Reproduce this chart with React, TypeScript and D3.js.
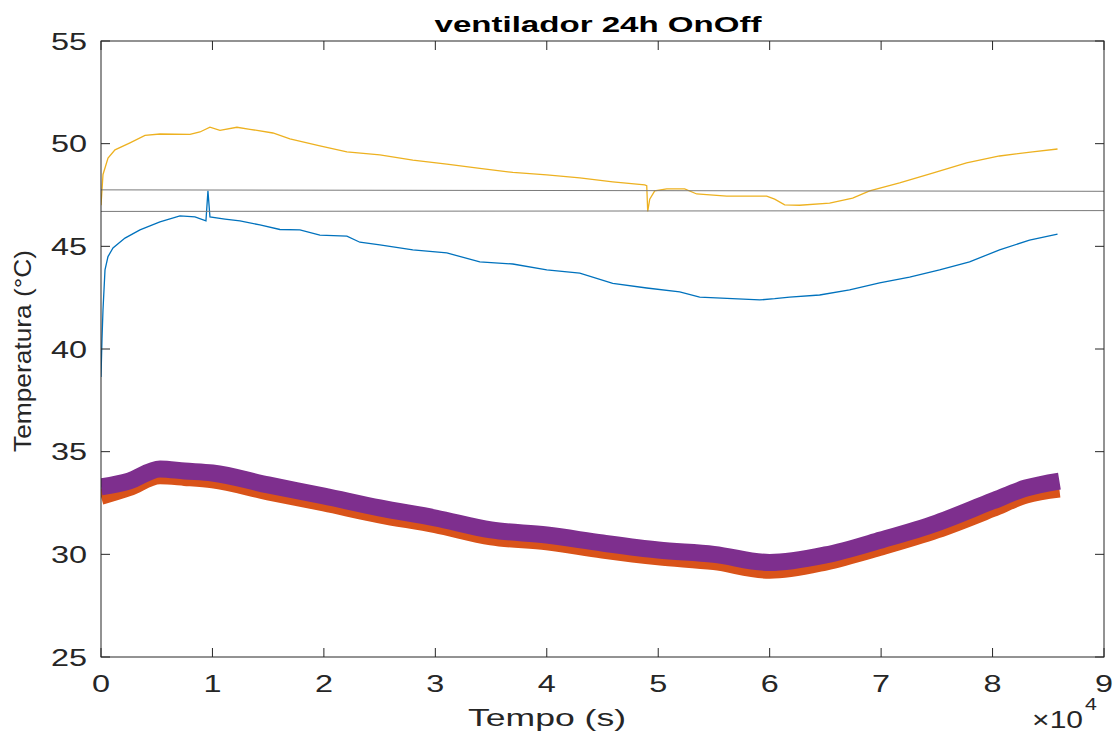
import React from 'react';
import * as d3 from 'd3';

// Tempo (s) vs Temperatura (°C)
const blueX = [0, 90, 179, 359, 628, 1076, 2152, 3498, 5291, 7085, 8430, 9417, 9596, 9776, 11121, 12466, 14260, 16054, 17848, 19641, 22063, 23229, 25022, 27982, 31031, 33991, 36951, 40000, 42960, 45919, 48969, 51928, 53722, 59103, 60448, 61794, 64484, 67175, 69865, 72556, 75247, 77937, 80628, 83318, 85830];
const blueY = [38.64, 40.5, 41.9, 43.85, 44.5, 44.92, 45.4, 45.8, 46.19, 46.48, 46.43, 46.24, 47.7, 46.43, 46.33, 46.24, 46.04, 45.82, 45.8, 45.55, 45.5, 45.2, 45.07, 44.83, 44.68, 44.24, 44.14, 43.85, 43.7, 43.2, 42.97, 42.78, 42.53, 42.39, 42.45, 42.53, 42.63, 42.88, 43.22, 43.5, 43.85, 44.24, 44.83, 45.3, 45.6];

const yellowX = [0, 180, 630, 1256, 2600, 3946, 5291, 7982, 8879, 9776, 10673, 12197, 13363, 15426, 16951, 19641, 22063, 25022, 27982, 31031, 33991, 36951, 40000, 42960, 45919, 48789, 48969, 49058, 49238, 49686, 50762, 52377, 53453, 56143, 59731, 60448, 61345, 62690, 65381, 67444, 68969, 71659, 74619, 77668, 80628, 83587, 85830];
const yellowY = [47.0, 48.5, 49.3, 49.7, 50.04, 50.4, 50.47, 50.45, 50.57, 50.8, 50.65, 50.8, 50.7, 50.52, 50.23, 49.89, 49.6, 49.45, 49.2, 49.0, 48.8, 48.6, 48.48, 48.33, 48.14, 47.99, 47.95, 46.7, 47.3, 47.7, 47.8, 47.8, 47.55, 47.45, 47.45, 47.3, 47.02, 47.0, 47.1, 47.35, 47.7, 48.09, 48.57, 49.06, 49.4, 49.6, 49.74];

const bandX = [0, 2500, 5300, 7500, 10000, 15000, 20000, 25000, 30000, 35000, 40000, 45000, 50000, 55000, 60000, 65000, 70000, 75000, 80000, 83000, 86000];
const purpleY = [33.28, 33.57, 34.16, 34.06, 33.96, 33.38, 32.84, 32.26, 31.77, 31.19, 30.94, 30.55, 30.21, 30.0, 29.6, 29.97, 30.7, 31.53, 32.6, 33.23, 33.57];
const orangeY = [32.8, 33.22, 33.8, 33.72, 33.6, 33.02, 32.48, 31.9, 31.42, 30.83, 30.58, 30.18, 29.85, 29.62, 29.2, 29.6, 30.33, 31.16, 32.2, 32.86, 33.15];

const grayX = [0, 90000];
const grayUpperY = [47.75, 47.68];
const grayLowerY = [46.7, 46.74];

const xTicks = [0, 1, 2, 3, 4, 5, 6, 7, 8, 9];
const yTicks = [25, 30, 35, 40, 45, 50, 55];

const W = 1117;
const H = 733;
const m = { left: 101, right: 1104, top: 41, bottom: 657 };
const font = '"Liberation Sans", Arial, Helvetica, sans-serif';
const axisColor = '#262626';
const sx = 1.35; // the reference text is stretched sideways

function T({ x, y, anchor = 'start', size = 24, scale = sx, children, ...rest }: any) {
  return (
    <text transform={`translate(${x},${y}) scale(${scale},1)`} textAnchor={anchor} fontSize={size} fill={axisColor} {...rest}>
      {children}
    </text>
  );
}

export default function App() {
  const x = d3.scaleLinear().domain([0, 90000]).range([m.left, m.right]);
  const y = d3.scaleLinear().domain([25, 55]).range([m.bottom, m.top]);

  const line = (xs: number[], ys: number[], curve: any = d3.curveLinear) =>
    d3.line<number>().x((_, i) => x(xs[i])).y((v) => y(v)).curve(curve)(ys) || '';

  const tickLen = 9;

  return (
    <svg width={W} height={H} style={{ position: 'absolute', left: 0, top: 0, background: '#fff' }} fontFamily={font}>
      <defs>
        <clipPath id="plot">
          <rect x={m.left} y={m.top} width={m.right - m.left} height={m.bottom - m.top} />
        </clipPath>
      </defs>
      <rect width={W} height={H} fill="#fff" />

      <g clipPath="url(#plot)">
        <path d={line(blueX, blueY)} fill="none" stroke="#0072BD" strokeWidth={1.3} />
        <path d={line(bandX, orangeY, d3.curveMonotoneX)} fill="none" stroke="#D95319" strokeWidth={16} />
        <path d={line(yellowX, yellowY)} fill="none" stroke="#EDB120" strokeWidth={1.3} />
        <path d={line(bandX, purpleY, d3.curveMonotoneX)} fill="none" stroke="#7E2F8E" strokeWidth={17} />
        <path d={line(grayX, grayUpperY)} fill="none" stroke="#7a7a7a" strokeWidth={1} />
        <path d={line(grayX, grayLowerY)} fill="none" stroke="#7a7a7a" strokeWidth={1} />
      </g>

      {/* box */}
      <rect x={m.left} y={m.top} width={m.right - m.left} height={m.bottom - m.top} fill="none" stroke={axisColor} strokeWidth={1} />

      {xTicks.map((t) => (
        <g key={'x' + t}>
          <line x1={x(t * 1e4)} x2={x(t * 1e4)} y1={m.bottom} y2={m.bottom - tickLen} stroke={axisColor} />
          <line x1={x(t * 1e4)} x2={x(t * 1e4)} y1={m.top} y2={m.top + tickLen} stroke={axisColor} />
          <T x={x(t * 1e4)} y={692} anchor="middle">{t}</T>
        </g>
      ))}
      {yTicks.map((t) => (
        <g key={'y' + t}>
          <line x1={m.left} x2={m.left + tickLen} y1={y(t)} y2={y(t)} stroke={axisColor} />
          <line x1={m.right} x2={m.right - tickLen} y1={y(t)} y2={y(t)} stroke={axisColor} />
          <T x={87} y={y(t) + 8.5} anchor="end">{t}</T>
        </g>
      ))}

      <T x={1083} y={728} anchor="end" scale={1.25}>×10</T>
      <T x={1085} y={710} size={17} scale={1.25}>4</T>

      <text x={547} y={726} textAnchor="middle" fontSize={24} fill={axisColor} textLength={158} lengthAdjust="spacingAndGlyphs">Tempo (s)</text>
      <text transform="translate(31,351) rotate(-90)" textAnchor="middle" fontSize={24} fill={axisColor} textLength={202} lengthAdjust="spacingAndGlyphs">Temperatura (°C)</text>
      <text x={598} y={32} textAnchor="middle" fontSize={22} fontWeight="bold" fill="#000" textLength={327} lengthAdjust="spacingAndGlyphs">ventilador 24h OnOff</text>
    </svg>
  );
}
